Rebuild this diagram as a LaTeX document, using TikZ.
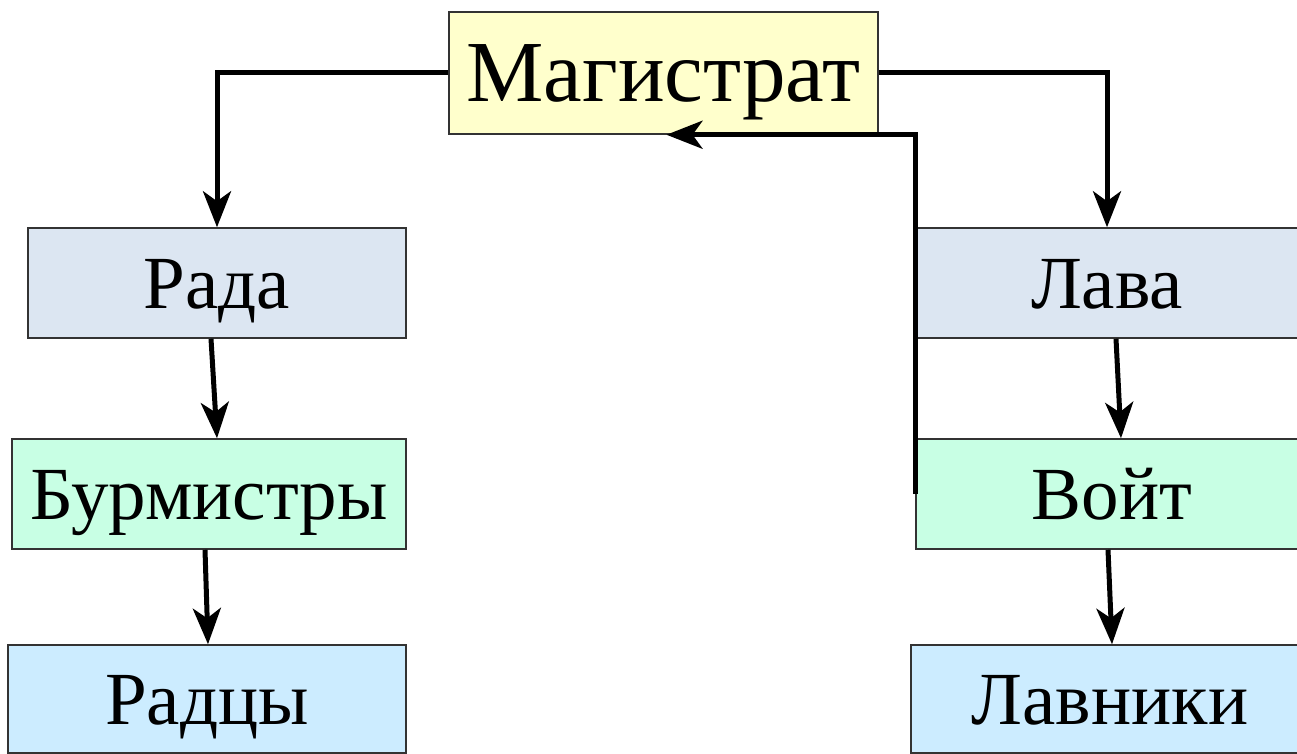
\documentclass[tikz,border=0pt]{standalone}
\usepackage{fontspec}
\setmainfont{Liberation Serif}
\usetikzlibrary{arrows.meta}
\definecolor{cyel}{HTML}{FFFFCC}
\definecolor{cgrey}{HTML}{DCE6F2}
\definecolor{cgreen}{HTML}{C8FFE4}
\definecolor{cblue}{HTML}{CCECFF}
\definecolor{cborder}{HTML}{333333}
\tikzset{
  lbl/.style={inner sep=0pt, font=\fontsize{75}{80}\selectfont, text height=50pt, text depth=0pt},
  box/.style={lbl, draw=cborder, line width=1.5pt, rectangle, minimum height=110pt},
  conn/.style={line width=5pt, -{Stealth[length=36pt, width=28pt, inset=10pt]}},
}
\begin{document}
\begin{tikzpicture}[x=1pt,y=-1pt]
\useasboundingbox (0,0) rectangle (1297,754);
\node[box, fill=cyel, minimum width=429pt, minimum height=122pt, font=\fontsize{87}{92}\selectfont, text height=58pt] (mag) at (663.5,73) {Магистрат};
\node[box, fill=cgrey, minimum width=378pt] (rada) at (217,283) {Рада};
\node[box, fill=cgreen, minimum width=394pt] (burm) at (209,494) {Бурмистры};
\node[box, fill=cblue, minimum width=398pt, minimum height=108pt] (radcy) at (207,699) {Радцы};
\node[box, fill=cgrey, minimum width=384pt] (lava) at (1108,283) {};
\node[box, fill=cgreen, minimum width=384pt] (voit) at (1108,494) {};
\node[box, fill=cblue, minimum width=389pt, minimum height=108pt] (lavn) at (1105.5,699) {};
\node[lbl] (lavat) at (1107,283) {Лава};
\node[lbl] (voitt) at (1112,494) {Войт};
\node[lbl] (lavnt) at (1110,699) {Лавники};
\draw[conn] (mag.west) -- (mag.west -| rada.north) -- (rada.north);
\draw[conn] (mag.east) -- ([xshift=-1pt]mag.east -| lava.north) -- ([xshift=-1pt]lava.north);
\draw[conn] (voit.west) -- (voit.west |- mag.south) -- ([xshift=3pt]mag.south);
\draw[conn] ([xshift=-6pt]rada.south) -- ([xshift=8pt]burm.north);
\draw[conn] ([xshift=-4pt]burm.south) -- ([xshift=1pt]radcy.north);
\draw[conn] ([xshift=8pt]lava.south) -- ([xshift=13pt]voit.north);
\draw[conn] (voit.south) -- ([xshift=6.5pt]lavn.north);
\end{tikzpicture}
\end{document}
